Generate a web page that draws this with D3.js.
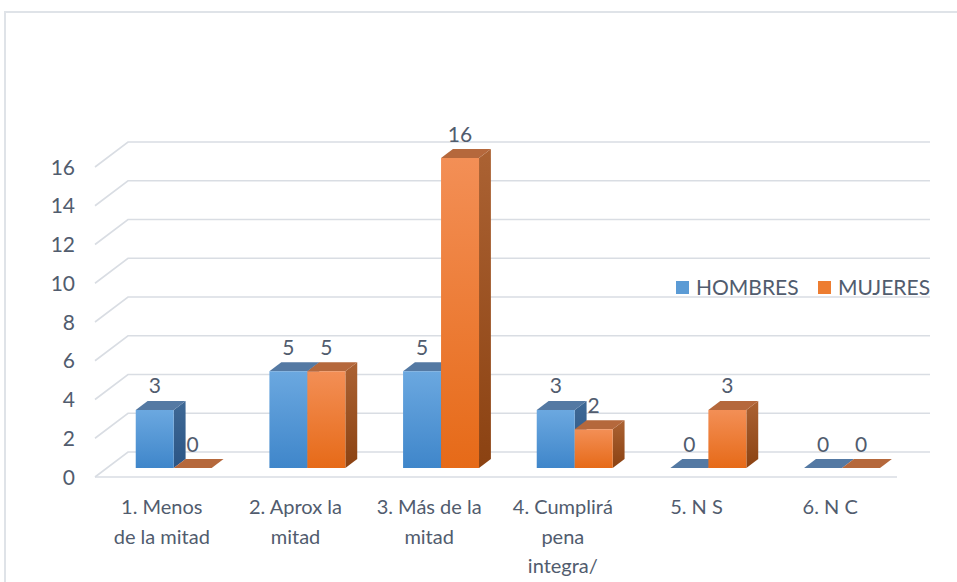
<!DOCTYPE html>
<html>
<head>
<meta charset="utf-8">
<script src="https://cdn.jsdelivr.net/npm/d3@7"></script>
<style>
  html, body { margin: 0; padding: 0; background: #fff; }
  svg { display: block; }
  text { font-family: Lato, "Open Sans", sans-serif; fill: #515c6e; }
</style>
</head>
<body>
<svg id="chart" width="957" height="582"></svg>
<script>
// Categories (line breaks mark where the axis label wraps)
const categories = [
  "1. Menos\nde la mitad",
  "2. Aprox la\nmitad",
  "3. Más de la\nmitad",
  "4. Cumplirá\npena\nintegra/",
  "5. N S",
  "6. N C"
];
const seriesNames = ["HOMBRES", "MUJERES"];
const hombres = [3, 5, 5, 3, 0, 0];
const mujeres = [0, 5, 16, 2, 3, 0];
const yTicks = [0, 2, 4, 6, 8, 10, 12, 14, 16];

const svg = d3.select("#chart");

// plot geometry: front plane of the floor and 3D depth offset
const frontLeft = 95, frontRight = 897;
const yBase = 477, yTop = 167;
const depthX = 33, depthY = -25;
const barDepth0 = 0.36, barDepth1 = 0.72;

const x = d3.scaleBand().domain(d3.range(categories.length)).range([frontLeft, frontRight]).paddingInner(0).paddingOuter(0);
const xs = d3.scaleBand().domain(seriesNames).range([0, x.bandwidth()]).paddingOuter(0.76).paddingInner(0);
const y = d3.scaleLinear().domain([0, 16]).range([yBase, yTop]);

const P = (px, py, f) => [px + depthX * f, py + depthY * f];

// chart frame
svg.append("path")
  .attr("d", "M5,582 L5,12 L957,12")
  .attr("fill", "none").attr("stroke", "#dfe3e8").attr("stroke-width", 2);

// gradients
const defs = svg.append("defs");
function grad(id, c0, c1) {
  const g = defs.append("linearGradient").attr("id", id).attr("x1", 0).attr("y1", 0).attr("x2", 0).attr("y2", 1);
  g.append("stop").attr("offset", "0%").attr("stop-color", c0);
  g.append("stop").attr("offset", "100%").attr("stop-color", c1);
}
grad("gFrontH", "#6ba8e0", "#3f86ca");
grad("gSideH", "#3f6996", "#2b5585");
grad("gFrontM", "#f38f56", "#e66a18");
grad("gSideM", "#ab6233", "#8b4212");
const styles = {
  HOMBRES: { front: "url(#gFrontH)", side: "url(#gSideH)", top: "#5479a3" },
  MUJERES: { front: "url(#gFrontM)", side: "url(#gSideM)", top: "#b5683c" }
};

// gridlines on side wall and back wall
const grid = svg.append("g").attr("stroke", "#d9dde3").attr("stroke-width", 1.6).attr("fill", "none");
yTicks.forEach(v => {
  const a = [frontLeft, y(v)];
  const b = P(frontLeft, y(v), 1);
  grid.append("path").attr("d", `M${a[0]},${a[1]} L${b[0]},${b[1]} L${frontRight + depthX},${b[1]}`);
});
// front edge of the floor
grid.append("line").attr("x1", frontLeft).attr("x2", frontRight).attr("y1", y(0)).attr("y2", y(0));

// y tick labels
svg.append("g").selectAll("text").data(yTicks).join("text")
  .attr("x", 75).attr("y", d => y(d)).attr("dy", "0.36em")
  .attr("text-anchor", "end").attr("font-size", 21)
  .text(d => d);

// bars
const bars = svg.append("g");
const labels = svg.append("g");
const poly = pts => "M" + pts.map(p => p.join(",")).join("L") + "Z";
categories.forEach((c, i) => {
  [hombres, mujeres].forEach((vals, s) => {
    const name = seriesNames[s];
    const v = vals[i];
    const x0 = x(i) + xs(name), x1 = x0 + xs.bandwidth();
    const y0 = y(0), y1 = y(v);
    const st = styles[name];
    const fl = P(x0, y1, barDepth0), fr = P(x1, y1, barDepth0);
    const bl = P(x0, y1, barDepth1), br = P(x1, y1, barDepth1);
    const frB = P(x1, y0, barDepth0), brB = P(x1, y0, barDepth1);
    const flB = P(x0, y0, barDepth0);
    if (v > 0) {
      bars.append("path").attr("d", poly([fr, br, brB, frB])).attr("fill", st.side);
    }
    bars.append("path").attr("d", poly([fl, fr, br, bl])).attr("fill", st.top);
    if (v > 0) {
      bars.append("path").attr("d", poly([fl, fr, frB, flB])).attr("fill", st.front);
    }
    labels.append("text")
      .attr("x", (fl[0] + fr[0]) / 2).attr("y", fl[1] - 24).attr("dy", "0.36em")
      .attr("text-anchor", "middle").attr("font-size", 21)
      .text(v);
  });
});

// category labels
svg.append("g").selectAll("text").data(categories).join("text")
  .attr("text-anchor", "middle").attr("font-size", 20)
  .each(function(d, i) {
    const t = d3.select(this);
    d.split("\n").forEach((line, k) => {
      t.append("tspan").attr("x", x(i) + x.bandwidth() / 2).attr("y", 507 + k * 29.5).attr("dy", "0.36em").text(line);
    });
  });

// legend
const legend = svg.append("g");
const legendX = [676, 818];
seriesNames.forEach((n, s) => {
  legend.append("rect").attr("x", legendX[s]).attr("y", 281).attr("width", 13).attr("height", 13)
    .attr("fill", s === 0 ? "#5b9bd5" : "#ed7d31");
  legend.append("text").attr("x", legendX[s] + 20).attr("y", 287.5).attr("dy", "0.36em")
    .attr("font-size", 21).text(n);
});
</script>
</body>
</html>
